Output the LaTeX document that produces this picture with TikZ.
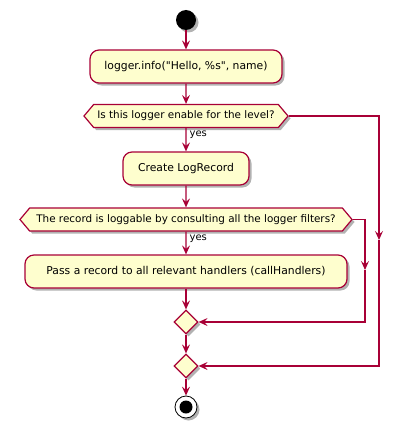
\documentclass[tikz,border=0pt]{standalone}
\usepackage{fontspec}
\setmainfont{DejaVu Sans}[Ligatures=TeXOff]
\usetikzlibrary{arrows.meta,shapes.geometric,shapes.symbols,shadows}
\definecolor{umlfill}{HTML}{FEFECE}
\definecolor{umlline}{HTML}{A80036}
\tikzset{umlshadow/.style={drop shadow={shadow xshift=2.5pt,shadow yshift=-2.5pt,opacity=0.3,fill=black}},
action/.style={rectangle, rounded corners=9pt, draw=umlline, fill=umlfill, line width=1.2pt,
minimum height=33pt, inner xsep=0pt, font=\fontsize{10.8}{12}\selectfont, umlshadow},
decision/.style={signal, signal to=west and east, signal pointer angle=100, draw=umlline,
fill=umlfill, line width=1.2pt, minimum height=23pt, inner sep=1pt,
font=\fontsize{10.4}{11}\selectfont, umlshadow},
merge/.style={diamond, draw=umlline, fill=umlfill, line width=1.2pt, minimum width=24pt,
minimum height=24pt, inner sep=0pt, umlshadow},
startnode/.style={circle, fill=black, minimum size=20pt, inner sep=0pt, umlshadow},
stopnode/.style={circle, draw=black, fill=white, line width=0.8pt, minimum size=22pt, inner sep=0pt,
umlshadow, path picture={\fill[black] (path picture bounding box.center) circle (6.5pt);}},
flow/.style={draw=umlline, line width=1.2pt, -{Stealth[length=9pt,width=8pt,inset=3.5pt]}},
branch/.style={font=\fontsize{10}{11}\selectfont, anchor=west, inner sep=0pt, xshift=3pt}}

\begin{document}
\begin{tikzpicture}[x=1pt, y=-1pt]
        \useasboundingbox (0,0) rectangle (404,428);
        \node[startnode] (start) at (186, 20) {};
        \node[action, minimum width=192pt] (act1) at (186, 66.5) {logger.info("Hello, \%s", name)};
        \node[decision, minimum width=204pt] (dec1) at (186, 116) {Is this logger enable for the level?};
        \node[action, minimum width=126pt] (act2) at (186, 168.5) {Create LogRecord};
        \node[decision, minimum width=332pt] (dec2) at (186, 219.5) {The record is loggable by consulting all the logger filters?};
        \node[action, minimum width=322pt] (act3) at (186, 271.5) {Pass a record to all relevant handlers (callHandlers)};
        \node[merge] (m1) at (186, 322) {};
        \node[merge] (m2) at (186, 366) {};
        \node[stopnode] (stop) at (186, 407) {};
        \coordinate (r1) at (379, 240);
        \coordinate (r2) at (365, 270);
        
        \draw[flow] (start) -- (act1);
        \draw[flow] (act1) -- (dec1);
        \draw[flow] (dec1) -- node[branch, pos=0.3] {yes} (act2);
        \draw[flow] (act2) -- (dec2);
        \draw[flow] (dec2) -- node[branch, pos=0.3] {yes} (act3);
        \draw[flow] (act3) -- (m1);
        \draw[flow] (m1) -- (m2);
        \draw[flow] (m2) -- (stop);
        
        \draw[flow] (dec1.east) -| (r1);
        \draw[flow] (r1) |- (m2.east);
        \draw[flow] (dec2.east) -| (r2);
        \draw[flow] (r2) |- (m1.east);
    \end{tikzpicture}
\end{document}
